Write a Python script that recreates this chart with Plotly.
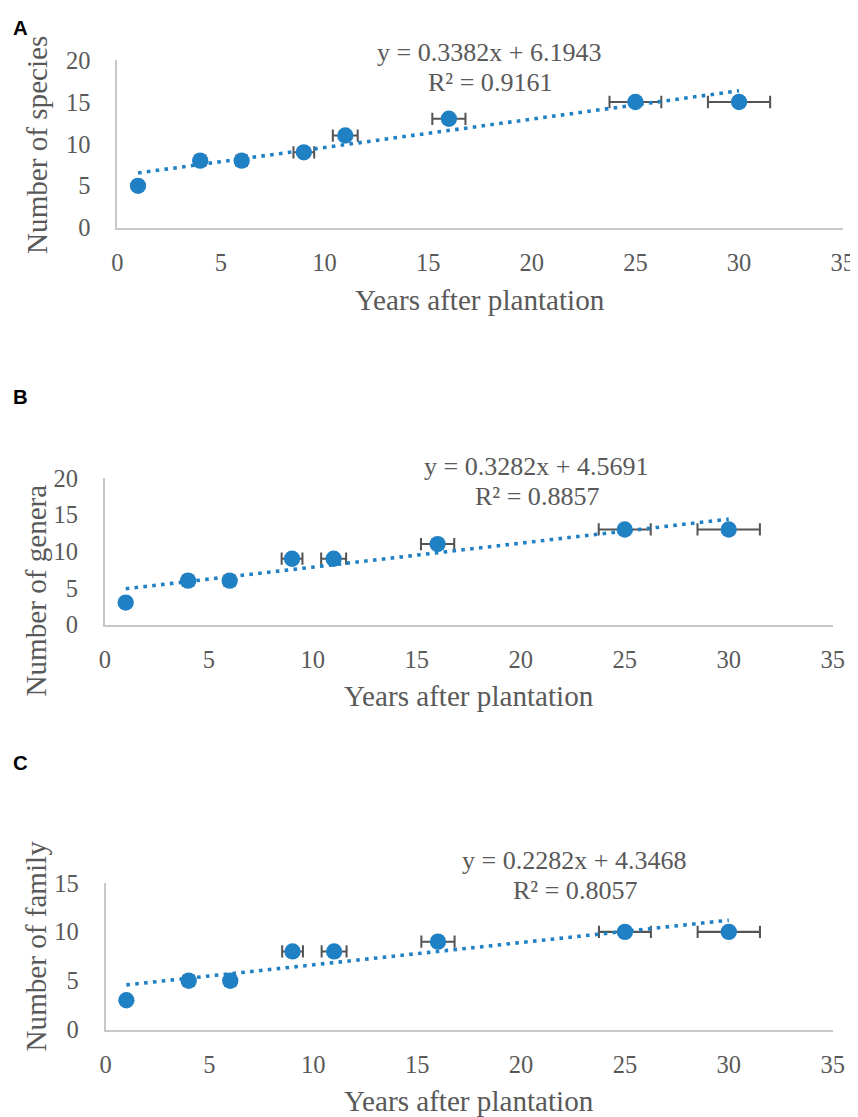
import plotly.graph_objects as go
import numpy as np

W, H = 860, 1124
# the photographed page shows the figure offset and slightly reduced;
# these constants map reference-picture pixels onto figure pixels
OX, OY, S = 13.4, 20.3, 0.979

# ---- data ----
years = [1, 4, 6, 9, 11, 16, 25, 30]
years_err = [0, 0.25, 0.25, 0.5, 0.6, 0.8, 1.25, 1.5]
species = [5, 8, 8, 9, 11, 13, 15, 15]
genera = [3, 6, 6, 9, 9, 11, 13, 13]
family = [3, 5, 5, 8, 8, 9, 10, 10]

panel_letters = ["A", "B", "C"]
y_titles = ["Number of species", "Number of genera", "Number of family"]
x_title = "Years after plantation"
slopes = [0.3382, 0.3282, 0.2282]
intercepts = [6.1943, 4.5691, 4.3468]
r2_values = [0.9161, 0.8857, 0.8057]
y_max = [20, 20, 15]
x_max = 35
tick_step = 5

series = [species, genera, family]

# ---- layout geometry (reference pixels) ----
areas = [(116.7, 842.0, 59.5, 227.7),
         (104.3, 832.0, 479.0, 625.7),
         (105.0, 832.0, 885.0, 1032.0)]
letter_pos = [(20, 27), (20, 397), (20, 765)]
eq_pos = [(489, 52, 82), (536, 467, 497), (574, 862, 892)]
ytitle_pos = [(37, 145), (35, 592), (35, 948)]
xtitle_dy = 72

def px(x):
    return ((x - OX) / S) / W

def py(y):
    return 1 - ((y - OY) / S) / H

def sz(v):
    return v / S

BLUE = "#2080c4"
GRAY = "#595959"
AXC = "#c8c8c8"
SERIF = "Liberation Serif, Times New Roman, serif"

fig = go.Figure()
annotations = []

for i in range(3):
    sfx = "" if i == 0 else str(i + 1)
    xa = "x" + sfx
    ya = "y" + sfx
    l, r, t, b = areas[i]
    vals = series[i]

    fig.add_trace(go.Scatter(
        x=years, y=vals, mode="markers",
        marker=dict(color=BLUE, size=sz(16)),
        error_x=dict(type="data", array=years_err, visible=True,
                     color="#555555", thickness=sz(2), width=sz(6)),
        xaxis=xa, yaxis=ya, showlegend=False,
    ))
    xs = np.array([years[0], years[-1]], dtype=float)
    fig.add_trace(go.Scatter(
        x=xs, y=slopes[i] * xs + intercepts[i], mode="lines",
        line=dict(color=BLUE, width=sz(3.5),
                  dash=f"{sz(3.5):.2f}px,{sz(5.2):.2f}px"),
        xaxis=xa, yaxis=ya, showlegend=False,
    ))

    axis_common = dict(showgrid=False, zeroline=False, showline=True,
                       linecolor=AXC, linewidth=sz(2), ticks="",
                       tickfont=dict(family=SERIF, size=sz(24), color=GRAY))
    fig.layout["xaxis" + sfx] = dict(
        domain=[px(l), px(r)], anchor=ya, range=[0, x_max], dtick=tick_step,
        tick0=0, ticklabelstandoff=round(sz(12)), **axis_common)
    fig.layout["yaxis" + sfx] = dict(
        domain=[py(b), py(t)], anchor=xa, range=[0, y_max[i]], dtick=tick_step,
        tick0=0, ticklabelstandoff=round(sz(20)), **axis_common)

    lx, ly = letter_pos[i]
    annotations.append(dict(
        x=px(lx), y=py(ly), xref="paper", yref="paper",
        text="<b>" + panel_letters[i] + "</b>",
        showarrow=False, xanchor="center", yanchor="middle",
        font=dict(family="Liberation Sans, Arial, sans-serif", size=sz(20), color="black")))
    ex, e1, e2 = eq_pos[i]
    annotations.append(dict(
        x=px(ex), y=py(e1), xref="paper", yref="paper",
        text=f"y = {slopes[i]:.4f}x + {intercepts[i]:.4f}",
        showarrow=False, xanchor="center", yanchor="middle",
        font=dict(family=SERIF, size=sz(25.5), color=GRAY)))
    annotations.append(dict(
        x=px(ex), y=py(e2), xref="paper", yref="paper",
        text=f"R² = {r2_values[i]:.4f}",
        showarrow=False, xanchor="center", yanchor="middle",
        font=dict(family=SERIF, size=sz(25.5), color=GRAY)))
    tx, ty = ytitle_pos[i]
    annotations.append(dict(
        x=px(tx), y=py(ty), xref="paper", yref="paper", text=y_titles[i],
        textangle=-90, showarrow=False, xanchor="center", yanchor="middle",
        font=dict(family=SERIF, size=sz(28.5), color=GRAY)))
    annotations.append(dict(
        x=px((l + r) / 2), y=py(b + xtitle_dy), xref="paper", yref="paper",
        text=x_title, showarrow=False, xanchor="center", yanchor="middle",
        font=dict(family=SERIF, size=sz(28.5), color=GRAY)))

fig.update_layout(
    width=W, height=H, margin=dict(l=0, r=0, t=0, b=0),
    paper_bgcolor="white", plot_bgcolor="white",
    annotations=annotations, showlegend=False,
)

fig.write_html("out.html")
